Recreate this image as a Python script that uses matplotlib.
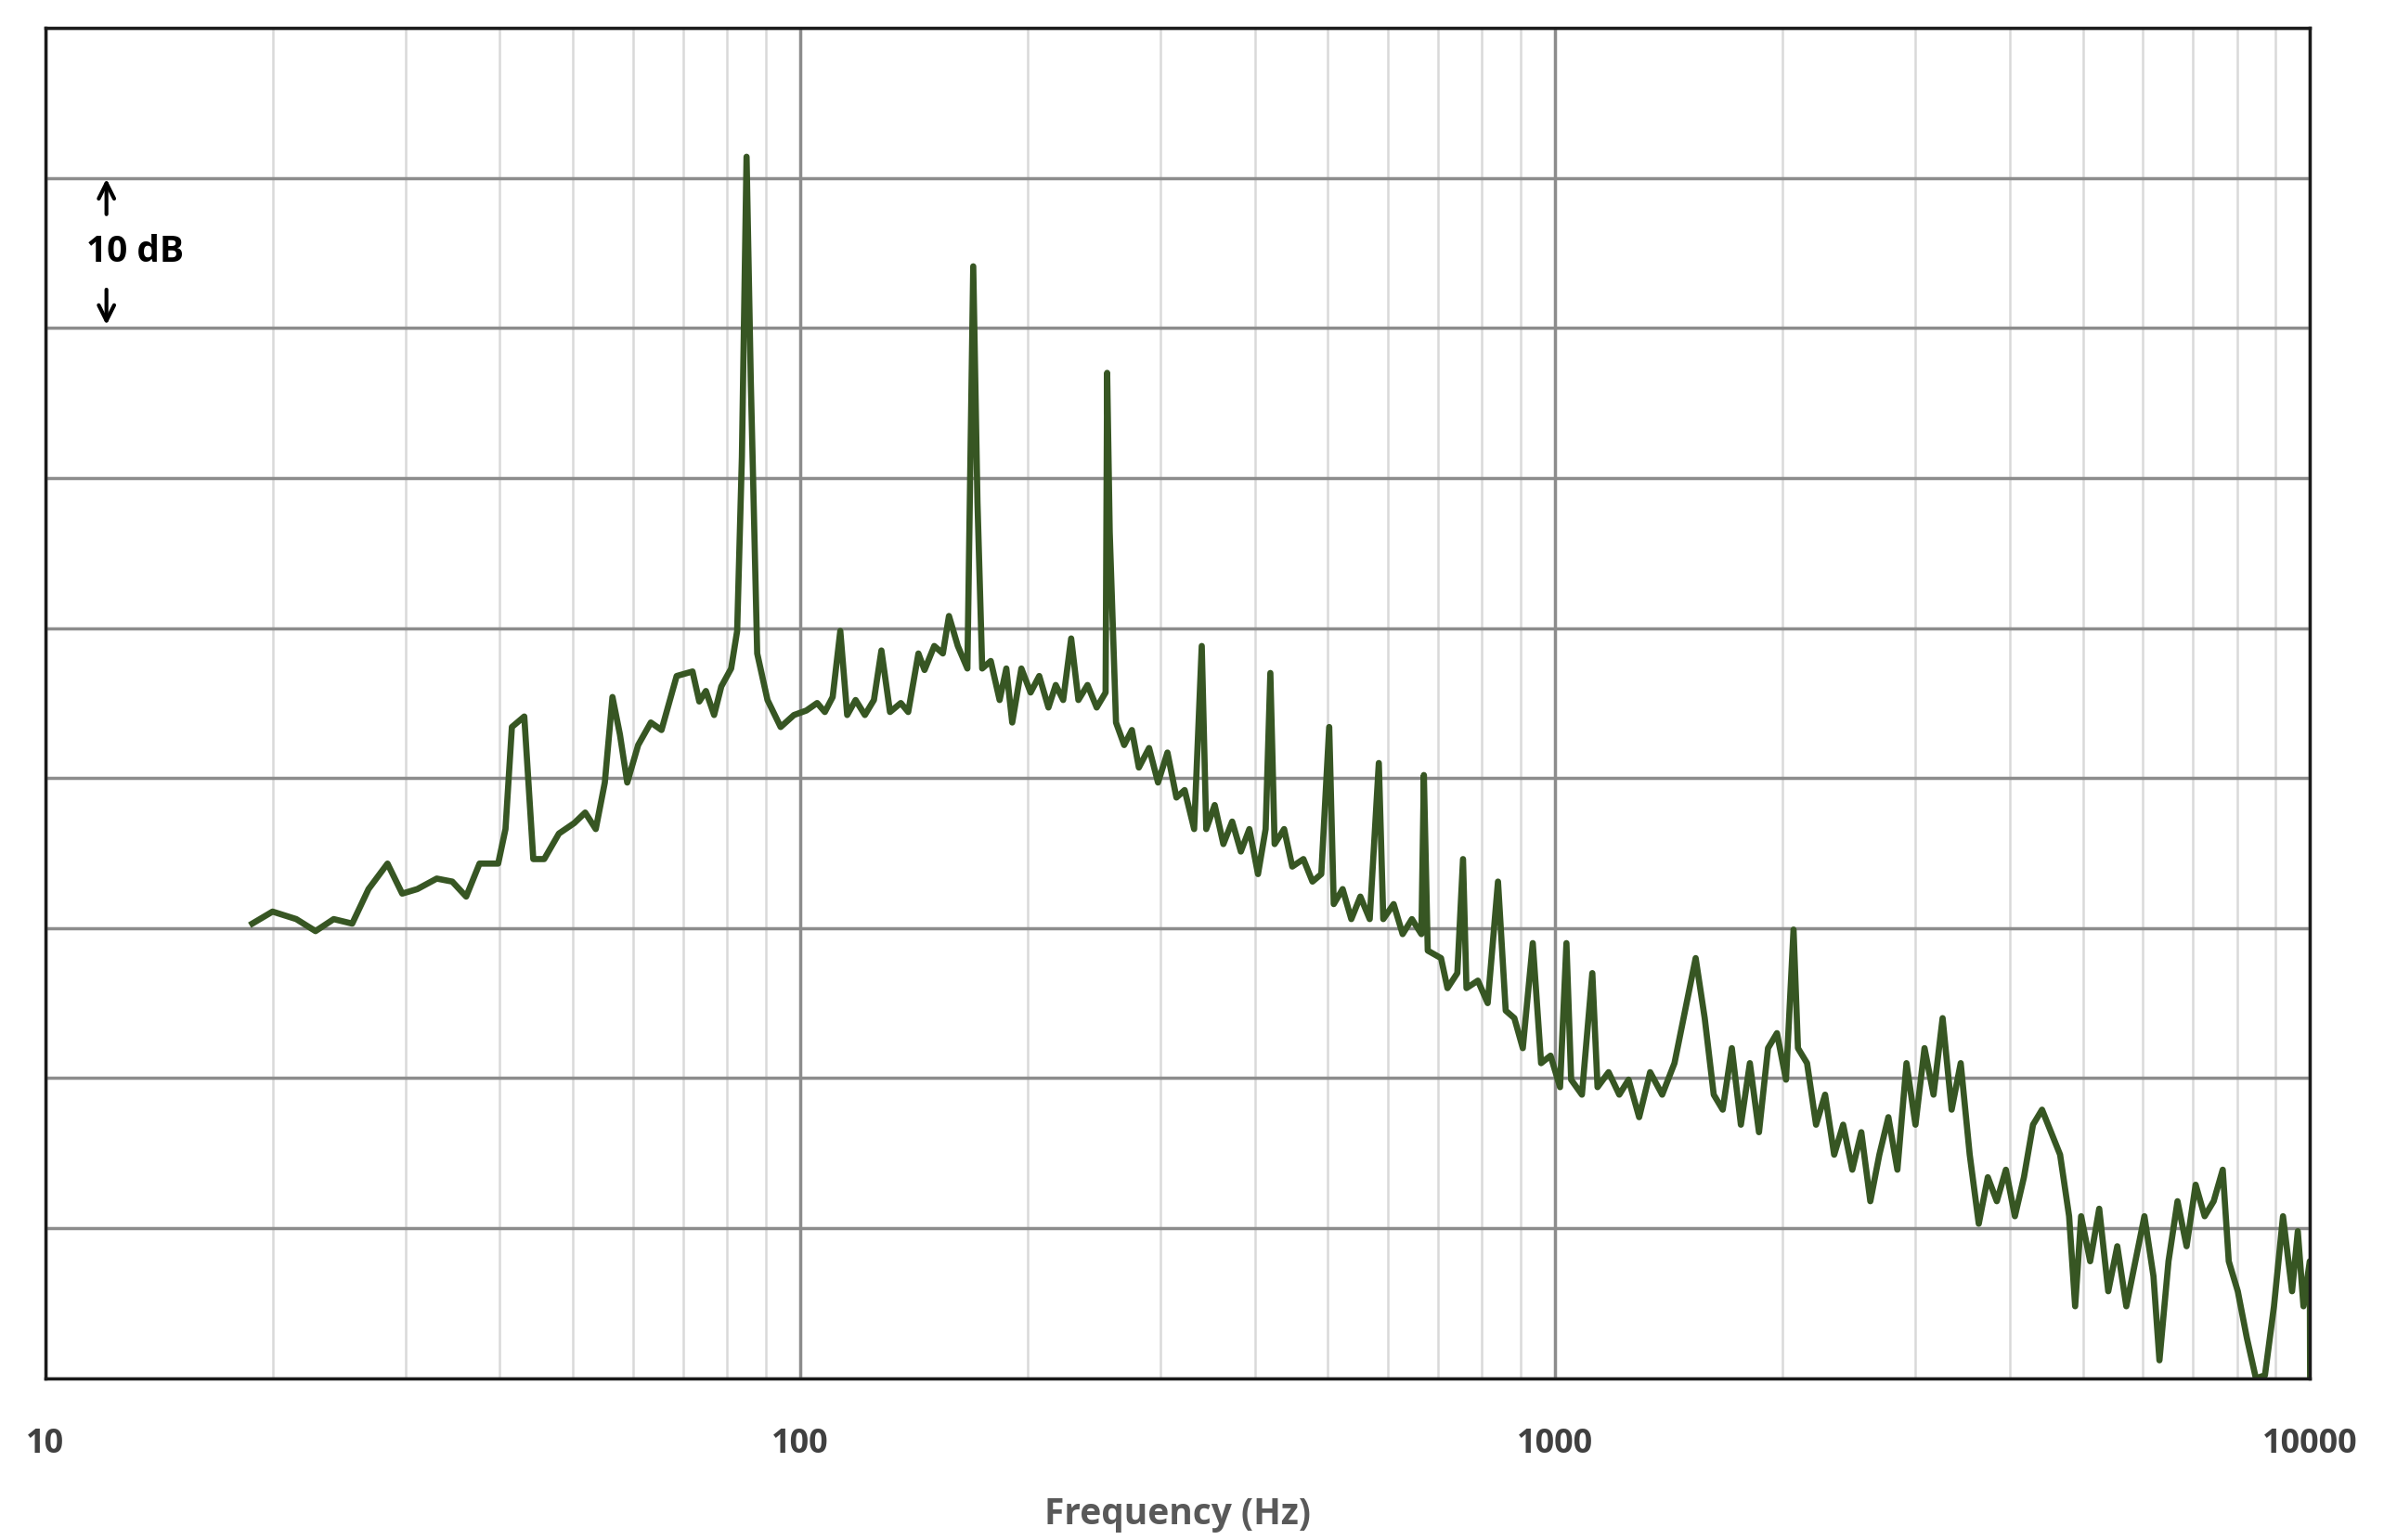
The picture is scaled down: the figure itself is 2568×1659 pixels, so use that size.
import matplotlib.pyplot as plt
from matplotlib.ticker import FixedLocator, LogLocator, NullFormatter

# spectrum (Hz, dB relative to bottom of chart)
freq = [18.8, 20.0, 21.5, 22.8, 24.1, 25.5, 26.8, 28.4, 29.7, 31.1, 33.0, 34.6, 36.1, 37.6, 39.8,
        40.7, 41.5, 43.1, 44.3, 45.8, 47.9, 50.2, 51.9, 53.6, 55.1, 56.4, 57.7, 59.0, 61.0, 63.4,
        65.5, 68.6, 72.0, 73.5, 75.0, 76.9, 78.6, 81.0, 82.5, 83.7, 84.9, 86.0, 87.7, 90.5, 94.2,
        98.1, 101.9, 105.3, 107.8, 110.4, 113.0, 115.4, 118.4, 121.8, 125.2, 128.1, 131.5, 135.9,
        139.0, 143.4, 146.1, 150.5, 154.5, 157.4, 161.7, 166.5, 169.5, 171.7, 174.2, 178.8, 183.7,
        187.5, 190.9, 196.3, 201.9, 207.3, 213.2, 218.0, 223.0, 228.5, 233.6, 240.2, 247.0, 253.8,
        255.0, 257.0, 262.0, 268.6, 275.0, 280.9, 289.8, 297.8, 306.5, 315.0, 323.0, 332.5, 340.3,
        345.0, 354.0, 363.5, 373.4, 383.4, 393.5, 404.0, 413.5, 419.5, 425.0, 437.5, 448.5, 464.0,
        477.0, 490.0, 502.0, 509.0, 523.0, 537.0, 552.0, 568.0, 584.0, 592.0, 611.0, 628.0, 646.0,
        665.0, 670.0, 678.0, 706.0, 720.0, 742.0, 755.0, 763.0, 790.0, 814.0, 840.0, 860.0, 883.0,
        906.0, 934.0, 958.0, 986.0, 1015, 1035, 1050, 1085, 1120, 1138, 1177, 1216, 1251, 1292,
        1336, 1386, 1439, 1486, 1535, 1578, 1622, 1667, 1714, 1762, 1811, 1862, 1914, 1967, 2022,
        2069, 2097, 2156, 2216, 2278, 2342, 2407, 2475, 2544, 2615, 2688, 2763, 2840, 2920, 3001,
        3085, 3171, 3260, 3351, 3445, 3541, 3640, 3742, 3846, 3954, 4064, 4178, 4295, 4415, 4538,
        4665, 4795, 4884, 4974, 5113, 5256, 5403, 5554, 5709, 5869, 6033, 6202, 6316, 6493, 6674,
        6861, 7053, 7250, 7452, 7661, 7803, 8021, 8245, 8476, 8713, 8957, 9207, 9465, 9632, 9800,
        9990, 10000]
level = [30.3, 31.1, 30.6, 29.8, 30.6, 30.3, 32.6, 34.3, 32.3, 32.6, 33.3, 33.1, 32.1, 34.3, 34.3,
         36.6, 43.4, 44.1, 34.6, 34.6, 36.3, 37.0, 37.7, 36.6, 39.7, 45.4, 42.9, 39.7, 42.2, 43.7,
         43.2, 46.8, 47.1, 45.1, 45.8, 44.2, 46.1, 47.3, 49.8, 61.4, 81.4, 66.5, 48.3, 45.2, 43.4,
         44.2, 44.5, 45.0, 44.4, 45.4, 49.8, 44.2, 45.2, 44.2, 45.2, 48.5, 44.4, 45.0,
         44.4, 48.3, 47.2, 48.8, 48.3, 50.8, 48.8, 47.3, 74.1, 58.4, 47.3, 47.8, 45.2,
         47.3, 43.7, 47.3, 45.7, 46.8, 44.7, 46.2, 45.2, 49.3, 45.2, 46.2, 44.7, 45.7,
         67.0, 56.4, 43.7, 42.2, 43.2, 40.7, 42.0, 39.7, 41.7, 38.7, 39.2, 36.6, 48.8,
         36.6, 38.2, 35.6, 37.1, 35.1, 36.6, 33.6, 36.6, 47.0, 35.6, 36.6, 34.1, 34.6,
         33.1, 33.6, 43.4, 31.6, 32.6, 30.6, 32.1, 30.6, 41.0, 30.6, 31.6, 29.6, 30.6,
         29.6, 40.2, 28.5, 28.0, 26.0, 27.0, 34.6, 26.0, 26.5, 25.0, 33.1, 24.5, 24.0,
         22.0, 29.0, 21.0, 21.5, 19.4, 29.0, 19.9, 18.9, 27.0, 19.4, 20.4, 18.9, 19.9, 17.4,
         20.4, 18.9, 21.0, 24.5, 28.0, 24.0, 18.9, 17.9, 22.0, 16.9, 21.0, 16.4, 22.0, 23.0, 19.9,
         29.9, 22.0, 21.0, 16.9, 18.9, 14.9, 16.9, 13.9, 16.4, 11.8, 14.9, 17.4, 13.9, 21.0, 16.9,
         22.0, 18.9, 24.0, 17.9, 21.0, 14.9, 10.3, 13.4, 11.8, 13.9, 10.8, 13.4, 16.9, 17.9, 16.4,
         14.9, 10.8, 4.8, 10.8, 7.8, 11.3, 5.8, 8.8, 4.8, 7.8, 10.8, 6.8, 1.2, 7.8, 11.8,
         8.8, 12.9, 10.8, 11.8, 13.9, 7.8, 5.8, 2.7, 0.0, 0.2, 4.8, 10.8, 5.8, 9.8, 4.8,
         7.8, 0.0]

x_ticks = [10, 100, 1000, 10000]
x_tick_labels = ['10', '100', '1000', '10000']

plt.rcParams['font.family'] = ['Open Sans', 'DejaVu Sans']

fig = plt.figure(figsize=(25.68, 16.59), dpi=100)
ax = fig.add_axes([0.019, 0.105, 0.950, 0.877])

ax.plot(freq, level, color='#375623', linewidth=4.8)

ax.set_xscale('log')
ax.set_xlim(10, 10000)
ax.set_ylim(0, 90)
ax.xaxis.set_major_locator(FixedLocator(x_ticks))
ax.set_xticklabels(x_tick_labels)
ax.xaxis.set_minor_locator(LogLocator(base=10, subs=range(2, 10)))
ax.xaxis.set_minor_formatter(NullFormatter())
ax.set_yticks(range(0, 91, 10))
ax.set_yticklabels([])

ax.grid(which='major', axis='x', color='#8c8c8c', linewidth=2.5)
ax.grid(which='minor', axis='x', color='#d9d9d9', linewidth=1.8)
ax.grid(which='major', axis='y', color='#8c8c8c', linewidth=2.5)
ax.tick_params(which='both', length=0, pad=38, labelsize=26, labelcolor='#404040')
for lbl in ax.get_xticklabels():
    lbl.set_fontweight('bold')
for s in ax.spines.values():
    s.set_linewidth(2.5)
    s.set_color('#1a1a1a')

ax.set_xlabel('Frequency (Hz)', fontsize=28, fontweight='bold', color='#595959', labelpad=28)

# 10 dB scale marker
ax.text(0.018, 0.834, '10 dB', transform=ax.transAxes, fontsize=28, fontweight='bold',
        va='center', ha='left')
ax.annotate('', xy=(0.027, 0.890), xytext=(0.027, 0.860), xycoords='axes fraction',
            textcoords='axes fraction', arrowprops=dict(arrowstyle='->', lw=3, mutation_scale=30))
ax.annotate('', xy=(0.027, 0.778), xytext=(0.027, 0.808), xycoords='axes fraction',
            textcoords='axes fraction', arrowprops=dict(arrowstyle='->', lw=3, mutation_scale=30))

fig.savefig('out.png', dpi=100)
